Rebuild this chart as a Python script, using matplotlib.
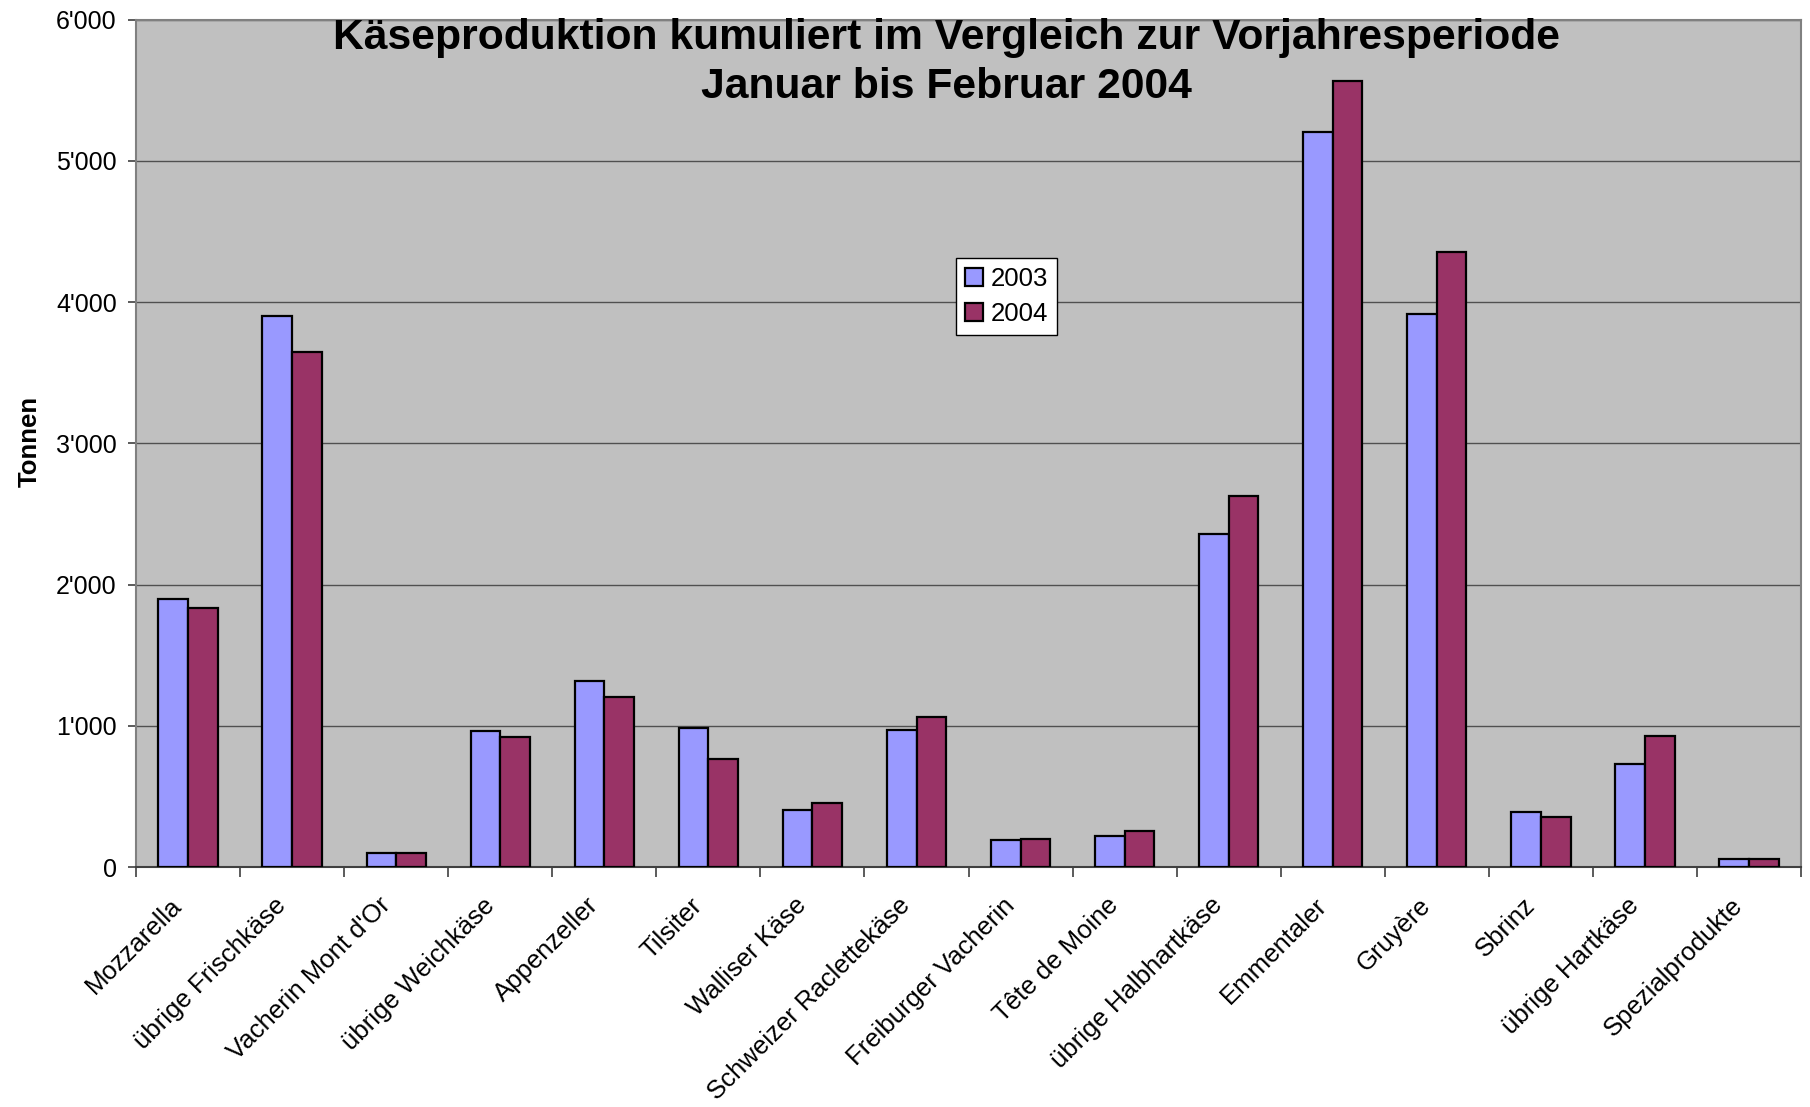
import numpy as np
import matplotlib.pyplot as plt
from matplotlib.ticker import FuncFormatter, FixedLocator
from matplotlib.transforms import ScaledTranslation

plt.rcParams['font.family'] = ['Liberation Sans', 'DejaVu Sans']

# Kaesesorten und Produktion in Tonnen (Januar bis Februar)
kategorien = ["Mozzarella", "übrige Frischkäse", "Vacherin Mont d'Or", "übrige Weichkäse",
              "Appenzeller", "Tilsiter", "Walliser Käse", "Schweizer Raclettekäse",
              "Freiburger Vacherin", "Tête de Moine", "übrige Halbhartkäse", "Emmentaler",
              "Gruyère", "Sbrinz", "übrige Hartkäse", "Spezialprodukte"]
werte_2003 = [1895, 3898, 96, 963, 1314, 986, 404, 971, 192, 219, 2355, 5203, 3913, 391, 726, 55]
werte_2004 = [1834, 3644, 101, 923, 1203, 767, 454, 1059, 199, 257, 2625, 5564, 4354, 353, 926, 58]
jahre = ["2003", "2004"]

x = np.arange(len(kategorien))
w = 1 / 3.5  # Excel: Abstand 150%

fig = plt.figure(figsize=(18.10, 11.07), dpi=100)
ax = fig.add_axes([0.0752, 0.2168, 0.9198, 0.7655])
ax.set_facecolor('#C0C0C0')

ax.bar(x - w / 2, werte_2003, w, color='#9999FF', edgecolor='black', linewidth=1.6,
       label=jahre[0], zorder=3)
ax.bar(x + w / 2, werte_2004, w, color='#993366', edgecolor='black', linewidth=1.6,
       label=jahre[1], zorder=3)

ax.set_xlim(-0.5, len(kategorien) - 0.5)
ax.set_ylim(0, 6000)
ax.set_yticks(np.arange(0, 6001, 1000))
ax.yaxis.set_major_formatter(FuncFormatter(lambda v, p: f"{int(v):,}".replace(",", "'")))
ax.grid(axis='y', color='#505050', linewidth=1.0, zorder=1)

ax.set_xticks(x)
ax.set_xticklabels(kategorien, rotation=45, ha='right', va='center',
                   rotation_mode='anchor', fontsize=18.5)
ax.xaxis.set_minor_locator(FixedLocator(np.arange(-0.5, len(kategorien), 1)))
ax.tick_params(axis='x', which='major', length=0, pad=25)
ax.tick_params(axis='x', which='minor', length=7, width=1.2, color='#404040')
ax.tick_params(axis='y', length=6, width=1.2, color='#404040', labelsize=18, pad=8)
shift = ScaledTranslation(-7 / 72, 0, fig.dpi_scale_trans)
for lab in ax.get_xticklabels():
    lab.set_transform(lab.get_transform() + shift)

for s in ax.spines.values():
    s.set_color('#808080')
    s.set_linewidth(1.5)
ax.spines['bottom'].set_color('#404040')

ax.set_ylabel("Tonnen", fontsize=18.5, fontweight='bold')
ax.yaxis.set_label_coords(-0.0566, 0.502)

fig.text(0.523, 0.9435, "Käseproduktion kumuliert im Vergleich zur Vorjahresperiode\nJanuar bis Februar 2004",
         ha='center', va='center', fontsize=30.7, fontweight='bold', linespacing=1.3)

leg = ax.legend(loc='upper left', bbox_to_anchor=(0.4925, 0.719), fontsize=18.5, frameon=True,
                fancybox=False, edgecolor='black', facecolor='white', framealpha=1,
                handlelength=0.7, handleheight=0.7, handletextpad=0.3, borderpad=0.35,
                labelspacing=0.45, borderaxespad=0)
leg.get_frame().set_linewidth(1.0)

fig.savefig("out.png", dpi=100)
